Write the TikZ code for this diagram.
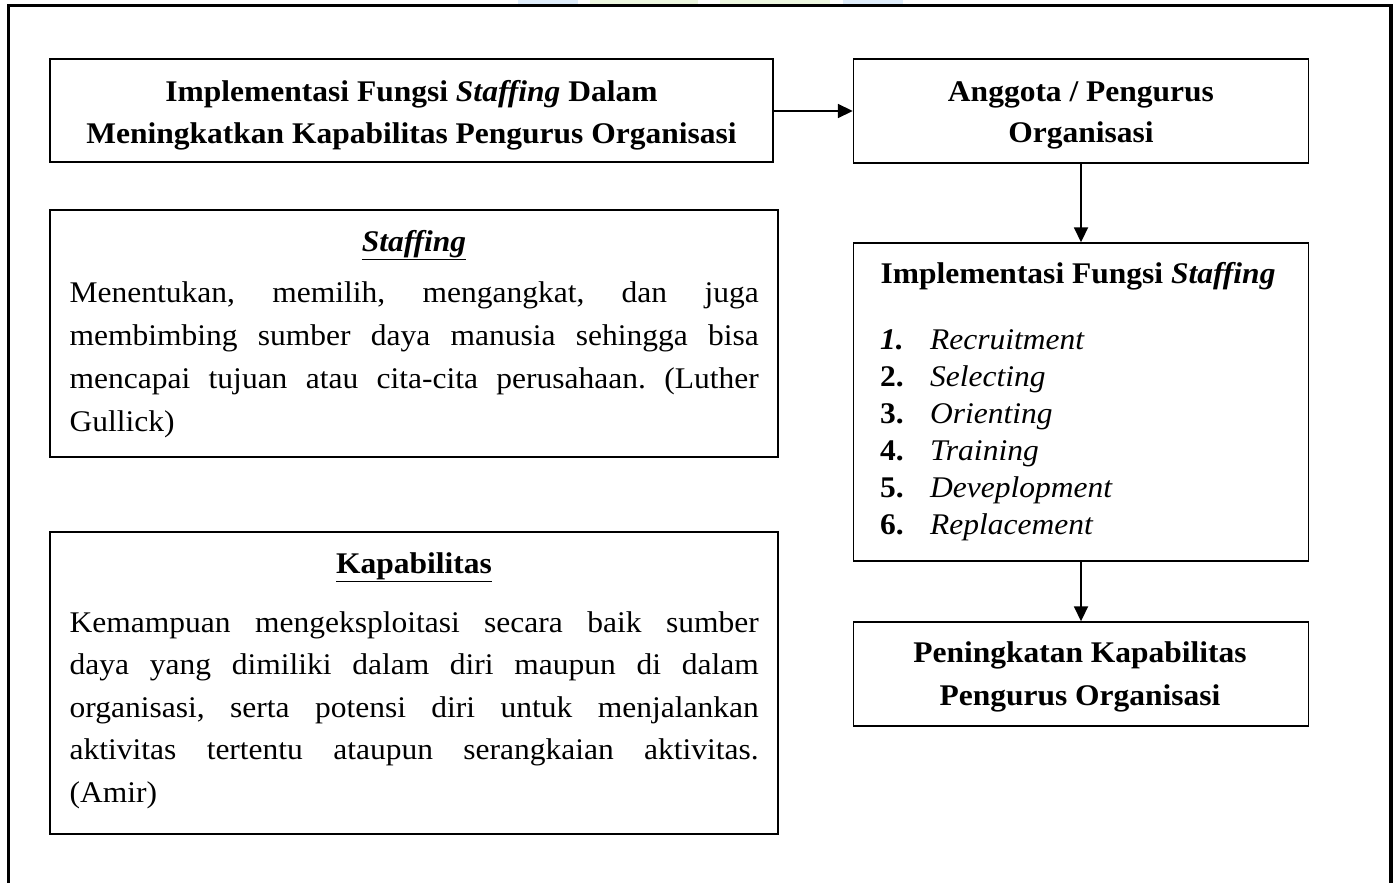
\documentclass[tikz,border=0pt]{standalone}
\usepackage{fontspec}
\setmainfont{Liberation Serif}[FakeStretch=1.05]
\usetikzlibrary{arrows.meta}
\definecolor{wmblue}{RGB}{222,236,250}
\definecolor{wmgreen}{RGB}{236,246,222}
\tikzset{
  box/.style={draw, line width=1.4pt, inner sep=0pt},
  conn/.style={line width=1.8pt, -{Triangle[length=15pt,width=14pt]}},
  txt/.style={inner sep=0pt, anchor=base},
  frame/.style={line width=3.5pt},
}
\newcommand{\bodyfnt}{\fontsize{30}{43}\selectfont}
\newcommand{\jline}[1]{\makebox[\linewidth][s]{#1}}
\frenchspacing
\begin{document}
\begin{tikzpicture}[x=1pt,y=-1pt]
\useasboundingbox (0,0) rectangle (1395,883);
% faint watermark remnants at the top
\fill[wmblue]  (518,0) rectangle (578,5);
\fill[wmgreen] (590,0) rectangle (698,5);
\fill[wmgreen] (720,0) rectangle (830,5);
\fill[wmblue]  (843,0) rectangle (903,5);
% outer frame (open at the bottom)
\draw[frame] (8.5,883) -- (8.5,5.5) -- (1391,5.5) -- (1391,883);

% boxes
\node[box, minimum width=723pt, minimum height=103pt] (b1) at (411.5,110.5) {};
\node[box, minimum width=455pt, minimum height=104pt] (b2) at (1081,111) {};
\node[box, minimum width=455pt, minimum height=318pt] (b3) at (1081,402) {};
\node[box, minimum width=455pt, minimum height=104pt] (b4) at (1081,674) {};
\node[box, minimum width=728pt, minimum height=247pt] (bs) at (414,333.5) {};
\node[box, minimum width=728pt, minimum height=302pt] (bk) at (414,683) {};

% connectors
\draw[conn] (b1.east |- b2.west) -- (b2.west);
\draw[conn] (b2.south) -- (b3.north);
\draw[conn] (b3.south) -- (b4.north);

% texts of box 1 and 2
\node[txt] (t1) at (411.5,101) {\parbox[t]{715pt}{\centering\fontsize{30}{42}\selectfont\bfseries
Implementasi Fungsi \textit{Staffing} Dalam\\ Meningkatkan Kapabilitas Pengurus Organisasi}};
\node[txt] (t2) at (1081,101) {\parbox[t]{440pt}{\centering\fontsize{30}{41}\selectfont\bfseries
Anggota / Pengurus\\ Organisasi}};

% box 3
\node[txt] (t3) at (1078,283) {\fontsize{30}{37}\selectfont\textbf{Implementasi Fungsi \textit{Staffing}}};
\node[txt, anchor=base west] (t3list) at (880,349) {\parbox[t]{400pt}{\fontsize{30}{37}\selectfont
\makebox[50pt][l]{\textbf{\textit{1.}}}\textit{Recruitment}\\
\makebox[50pt][l]{\textbf{2.}}\textit{Selecting}\\
\makebox[50pt][l]{\textbf{3.}}\textit{Orienting}\\
\makebox[50pt][l]{\textbf{4.}}\textit{Training}\\
\makebox[50pt][l]{\textbf{5.}}\textit{Deveplopment}\\
\makebox[50pt][l]{\textbf{6.}}\textit{Replacement}}};

% box 4
\node[txt] (t4) at (1080,662) {\parbox[t]{440pt}{\centering\fontsize{30}{43}\selectfont\bfseries
Peningkatan Kapabilitas\\ Pengurus Organisasi}};

% staffing box
\node[txt] (tsh) at (414,251) {\fontsize{30}{43}\selectfont\textbf{\textit{\underline{Staffing}}}};
\node[txt, anchor=base west] (tsb) at (69.5,302) {\parbox[t]{689pt}{\bodyfnt
\jline{Menentukan, memilih, mengangkat, dan juga}\\
\jline{membimbing sumber daya manusia sehingga bisa}\\
\jline{mencapai tujuan atau cita-cita perusahaan. (Luther}\\
Gullick)}};

% kapabilitas box
\node[txt] (tkh) at (414,573) {\fontsize{30}{43}\selectfont\textbf{\underline{Kapabilitas}}};
\node[txt, anchor=base west] (tkb) at (69.5,632) {\parbox[t]{689pt}{\fontsize{30}{42.5}\selectfont
\jline{Kemampuan mengeksploitasi secara baik sumber}\\
\jline{daya yang dimiliki dalam diri maupun di dalam}\\
\jline{organisasi, serta potensi diri untuk menjalankan}\\
\jline{aktivitas tertentu ataupun serangkaian aktivitas.}\\
(Amir)}};
\end{tikzpicture}
\end{document}
